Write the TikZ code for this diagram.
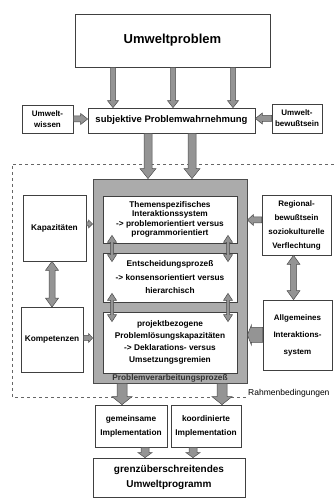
\documentclass[tikz,border=0pt]{standalone}
\usepackage{fontspec}
\setmainfont{Liberation Sans}
\usetikzlibrary{calc,positioning}

\tikzset{
  kasten/.style={draw=black!75, fill=white, line width=0.7pt, align=center, inner sep=1pt,
    font=\bfseries\fontsize{8.3}{12}\selectfont},
  rahmen/.style={dashed, draw=black!60, line width=0.5pt},
  % Blockpfeil: halbe Schaftbreite, halbe Kopfbreite, Kopflaenge
  pfeil/.style n args={3}{fill=black!42, draw=black!70, line width=0.5pt,
    to path={let \p1=(\tikztostart), \p2=(\tikztotarget),
      \n1={atan2(\y2-\y1,\x2-\x1)}, \n2={veclen(\x2-\x1,\y2-\y1)} in
      [shift={(\p1)}, rotate=\n1]
      (0,-#1) -- ({\n2-#3},-#1) -- ({\n2-#3},-#2) -- (\n2,0)
      -- ({\n2-#3},#2) -- ({\n2-#3},#1) -- (0,#1) -- cycle}},
  dpfeil/.style n args={3}{fill=black!42, draw=black!70, line width=0.5pt,
    to path={let \p1=(\tikztostart), \p2=(\tikztotarget),
      \n1={atan2(\y2-\y1,\x2-\x1)}, \n2={veclen(\x2-\x1,\y2-\y1)} in
      [shift={(\p1)}, rotate=\n1]
      (0,0) -- (#3,-#2) -- (#3,-#1) -- ({\n2-#3},-#1) -- ({\n2-#3},-#2) -- (\n2,0)
      -- ({\n2-#3},#2) -- ({\n2-#3},#1) -- (#3,#1) -- (#3,#2) -- cycle}},
}

\begin{document}
\begin{tikzpicture}[x=1pt,y=1pt]
\useasboundingbox (0,0) rectangle (334,500);

% Rahmenbedingungen
\draw[rahmen] (334,336) -- (12,336) -- (12,103) -- (246,103);
\node[anchor=west, font=\fontsize{8.5}{10}\selectfont, inner sep=0pt] (rahmen) at (248,107) {Rahmenbedingungen};

% oberer Teil
\node[kasten, minimum width=195pt, minimum height=53pt, font=\bfseries\fontsize{13}{15}\selectfont] (problem) at (172.5,459.5) {Umweltproblem};
\node[kasten, minimum width=167pt, minimum height=25pt, font=\bfseries\fontsize{9.5}{11}\selectfont] (wahrn) at (171.5,379.5) {subjektive Problemwahrnehmung};
\node[kasten, minimum width=51pt, minimum height=28pt, font=\bfseries\fontsize{8}{11}\selectfont] (wissen) at (47.5,381) {Umwelt-\\wissen};
\node[kasten, minimum width=50pt, minimum height=29pt, font=\bfseries\fontsize{8}{11}\selectfont] (bewusst) at (297,381.5) {Umwelt-\\bewußtsein};

% Problemverarbeitungsprozess
\node[draw=black!70, fill=black!33, line width=0.8pt, minimum width=154pt, minimum height=204pt] (prozess) at (170,219) {};
\node[kasten, minimum width=134pt, minimum height=47pt, font=\bfseries\fontsize{8.3}{9.4}\selectfont] (in1) at (170,280.5)
  {Themenspezifisches\\Interaktionssystem\\-> problemorientiert versus\\programmorientiert};
\node[kasten, minimum width=134pt, minimum height=49pt, font=\bfseries\fontsize{8.3}{13.5}\selectfont] (in2) at (170,222.5)
  {Entscheidungsprozeß\\-> konsensorientiert versus\\hierarchisch};
\node[kasten, minimum width=134pt, minimum height=61pt, font=\bfseries\fontsize{8.3}{12}\selectfont] (in3) at (170,157.5)
  {projektbezogene\\Problemlösungskapazitäten\\-> Deklarations- versus\\Umsetzungsgremien};
\node[font=\bfseries\fontsize{8.3}{10}\selectfont, text=black!80, inner sep=0pt] (prozlabel) at (170,122) {Problemverarbeitungsprozeß};

% linke und rechte Seite
\node[kasten, minimum width=63pt, minimum height=66pt] (kapaz) at (54.5,272) {Kapazitäten};
\node[kasten, minimum width=62pt, minimum height=65pt] (kompet) at (52,160) {Kompetenzen};
\node[kasten, minimum width=69pt, minimum height=60pt, font=\bfseries\fontsize{8}{14}\selectfont] (regional) at (296.5,275)
  {Regional-\\bewußtsein\\soziokulturelle\\Verflechtung};
\node[kasten, minimum width=69pt, minimum height=70pt, font=\bfseries\fontsize{8}{17}\selectfont] (allg) at (297.5,165)
  {Allgemeines\\Interaktions-\\system};

% unterer Teil
\node[kasten, minimum width=72pt, minimum height=42pt, font=\bfseries\fontsize{8.3}{14}\selectfont] (gemeinsam) at (131,74) {gemeinsame\\Implementation};
\node[kasten, minimum width=70pt, minimum height=42pt, font=\bfseries\fontsize{8.3}{14}\selectfont] (koord) at (206,74) {koordinierte\\Implementation};
\node[kasten, minimum width=152pt, minimum height=39pt, font=\bfseries\fontsize{10}{15}\selectfont] (final) at (169,22.5) {grenzüberschreitendes\\Umweltprogramm};

% Pfeile
\foreach \dx in {-59.5,0.5,60.5}
  \draw[pfeil={2.5}{5.5}{7}] ($(problem.south)+(\dx,0)$) to ($(problem.south |- wahrn.north)+(\dx,0)$);
\draw[pfeil={3}{5.5}{7}] (wissen.east) to (wissen.east -| wahrn.west);
\draw[pfeil={3}{5.5}{7}] (bewusst.west) to (bewusst.west -| wahrn.east);
\foreach \dx in {-22,22}
  \draw[pfeil={4}{8}{10}] ($(prozess.north |- wahrn.south)+(\dx,0)$) to ($(prozess.north)+(\dx,0)$);

\draw[pfeil={2}{4}{4}] ($(kapaz.east)+(0,4)$) to ($(kapaz.east -| prozess.west)+(0,4)$);
\draw[pfeil={2.5}{4.5}{4}] ($(kompet.east)+(0,2)$) to ($(kompet.east -| prozess.west)+(0,2)$);
\draw[pfeil={3}{5.5}{6}] ($(regional.west)+(0,5)$) to ($(regional.west -| prozess.east)+(0,5)$);
\draw[pfeil={7.5}{10}{4}] (allg.west) to (allg.west -| prozess.east);
\draw[dpfeil={3}{6.5}{9}] (kapaz.south -| kompet.north) to (kompet.north);
\draw[dpfeil={3}{6.5}{9}] ($(allg.north |- regional.south)+(-4,0)$) to ($(allg.north)+(-4,0)$);

\foreach \dx in {-58,58} {
  \draw[dpfeil={1.5}{4.5}{7}] ($(in1.south)+(\dx,8)$) to ($(in2.north)+(\dx,-9)$);
  \draw[dpfeil={1.5}{4.5}{7}] ($(in2.south)+(\dx,9)$) to ($(in3.north)+(\dx,-10)$);
}

\foreach \dx in {-48,52}
  \draw[pfeil={5}{10}{8}] ($(prozess.south)+(\dx,0)$) to ($(prozess.south |- gemeinsam.north)+(\dx,0)$);
\draw[pfeil={4}{7}{5}] ($(gemeinsam.south)+(14,0)$) to ($(gemeinsam.south |- final.north)+(14,0)$);
\draw[pfeil={4}{7}{5}] ($(koord.south)+(-13,0)$) to ($(koord.south |- final.north)+(-13,0)$);
\end{tikzpicture}
\end{document}
